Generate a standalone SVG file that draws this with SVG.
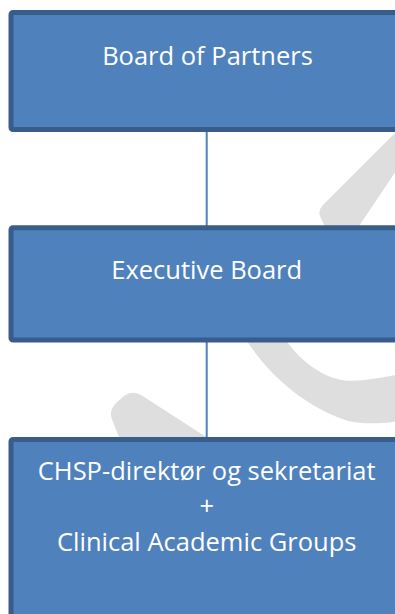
<svg xmlns="http://www.w3.org/2000/svg" width="395" height="614" viewBox="0 0 395 614">
  <style>
    .wm { fill: #dedede; stroke: none; }
    .box { fill: #4f81bd; stroke: #385d8a; stroke-width: 5; }
    .lbl { fill: #ffffff; font-family: "Open Sans", "Noto Sans", "DejaVu Sans", sans-serif; font-size: 25.5px; text-anchor: middle; }
    .conn { stroke: #4f81bd; stroke-width: 2; fill: none; }
  </style>
  <rect x="0" y="0" width="395" height="614" fill="#ffffff"/>
  <g id="watermark">
    <path class="wm" d="M 402,126 L 322,206 Q 318,211 320,216 L 327,232 L 355,232 L 402,162 Z"/>
    <path class="wm" d="M 245,338 C 265,370 300,405 348,421 C 365,425 385,423 400,421 L 400,374.5 C 385,376.5 362,382 345,380.5 C 320,377 300,360 284,338 Z"/>
    <path class="wm" d="M 121,442 L 113,422 Q 108,412 115,404 L 124,396 Q 132,390 141,395 L 214,442 Z"/>
  </g>
  <g id="connectors">
    <line class="conn" x1="206.7" y1="130" x2="206.7" y2="227"/>
    <line class="conn" x1="206.7" y1="340" x2="206.7" y2="439"/>
  </g>
  <g id="node-board-of-partners">
    <rect class="box" x="11" y="12.5" width="400" height="117" rx="2"/>
    <text class="lbl" x="207.5" y="65">Board of Partners</text>
  </g>
  <g id="node-executive-board">
    <rect class="box" x="11" y="227.8" width="400" height="112.2" rx="2"/>
    <text class="lbl" x="206.7" y="279.3">Executive Board</text>
  </g>
  <g id="node-chsp">
    <rect class="box" x="11" y="439.5" width="400" height="200" rx="2"/>
    <text class="lbl" x="206.7" y="480">CHSP-direktør og sekretariat</text>
    <text class="lbl" x="206.7" y="515.3">+</text>
    <text class="lbl" x="206.7" y="550.7">Clinical Academic Groups</text>
  </g>
</svg>
